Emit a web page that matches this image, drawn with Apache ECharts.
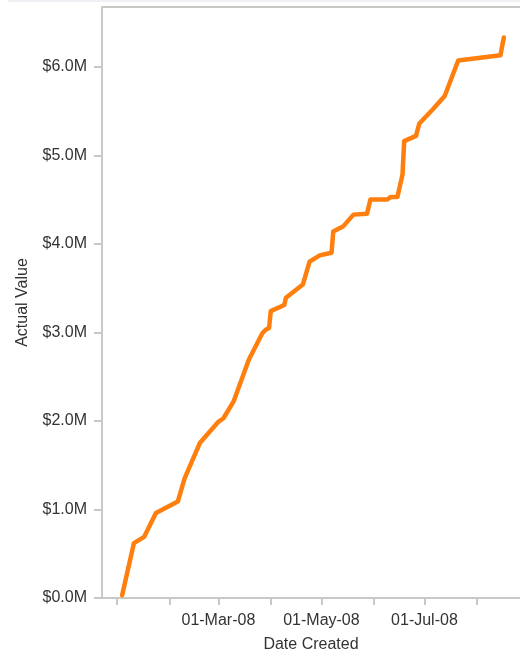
<!DOCTYPE html>
<html>
<head>
<meta charset="utf-8">
<script src="https://cdn.jsdelivr.net/npm/echarts@6/dist/echarts.min.js"></script>
<style>
html,body{margin:0;padding:0;background:#fff;}
#chart{width:520px;height:650px;}
</style>
</head>
<body>
<div id="chart"></div>
<script>
// Data (values in millions of dollars)
const dates = [
  '2008-01-04','2008-01-11','2008-01-17','2008-01-24','2008-02-06','2008-02-10','2008-02-19',
  '2008-03-01','2008-03-04','2008-03-10','2008-03-19','2008-03-27','2008-03-29','2008-03-31',
  '2008-04-01','2008-04-09','2008-04-10','2008-04-20','2008-04-24','2008-04-30','2008-05-07',
  '2008-05-08','2008-05-14','2008-05-20','2008-05-28','2008-05-30','2008-06-09','2008-06-11',
  '2008-06-15','2008-06-18','2008-06-19','2008-06-26','2008-06-28','2008-07-06','2008-07-13',
  '2008-07-21','2008-08-15','2008-08-17'
];
const actualValue = [
  0.03,0.62,0.69,0.96,1.09,1.35,1.75,
  1.99,2.03,2.22,2.69,2.99,3.03,3.05,
  3.24,3.31,3.39,3.54,3.80,3.87,3.90,
  4.14,4.20,4.33,4.34,4.50,4.50,4.53,
  4.53,4.78,5.16,5.22,5.36,5.52,5.67,
  6.07,6.13,6.33
];
const tickDates = ['2008-01-01','2008-02-01','2008-03-01','2008-04-01','2008-05-01','2008-06-01','2008-07-01','2008-08-01'];
const labelDates = ['2008-03-01','2008-05-01','2008-07-01'];
const tickLabels = ['01-Mar-08','01-May-08','01-Jul-08'];
const xMin = '2007-12-23 02:00';
const xMax = '2008-08-26 14:00';
const yTicks = [0,1,2,3,4,5,6];
const yMax = 6.675;

const toTime = s => echarts.time.parse(s).getTime();
const labelTimes = labelDates.map(toTime);

const chart = echarts.init(document.getElementById('chart'), null, {renderer:'canvas'});
const font = 'Liberation Sans, Arial, sans-serif';
chart.setOption({
  animation:false,
  backgroundColor:'#fff',
  grid:{left:102, right:0, top:7, bottom:52, containLabel:false, outerBoundsMode:'none'},
  graphic:[
    {type:'rect', left:8, top:0, shape:{width:512, height:2}, style:{fill:'#eef0f4'}, silent:true},
    {type:'line', shape:{x1:102, y1:7, x2:520, y2:7}, style:{stroke:'#c8c8c8', lineWidth:2}, silent:true}
  ],
  xAxis:{
    type:'value',
    min:toTime(xMin), max:toTime(xMax),
    name:'Date Created', nameLocation:'middle', nameGap:39,
    nameTextStyle:{fontFamily:font, fontSize:16, color:'#333'},
    axisLine:{show:true, lineStyle:{color:'#c8c8c8', width:2}},
    axisTick:{show:true, length:7, lineStyle:{color:'#c8c8c8', width:2}, customValues:tickDates.map(toTime)},
    axisLabel:{
      fontFamily:font, fontSize:16, color:'#333', margin:15,
      customValues:labelTimes,
      formatter:v => { const i = labelTimes.indexOf(v); return i >= 0 ? tickLabels[i] : ''; }
    },
    splitLine:{show:false}
  },
  yAxis:{
    type:'value',
    min:0, max:yMax, interval:1,
    name:'Actual Value', nameLocation:'middle', nameGap:71, nameRotate:90,
    nameTextStyle:{fontFamily:font, fontSize:16, color:'#333'},
    axisLine:{show:true, lineStyle:{color:'#c8c8c8', width:2}},
    axisTick:{show:true, length:8, lineStyle:{color:'#c8c8c8', width:2}, customValues:yTicks},
    axisLabel:{
      fontFamily:font, fontSize:16, color:'#333', margin:15,
      customValues:yTicks,
      formatter:v => '$' + v.toFixed(1) + 'M'
    },
    splitLine:{show:false}
  },
  series:[{
    type:'line',
    data:dates.map((d,i) => [toTime(d), actualValue[i]]),
    showSymbol:false,
    symbol:'none',
    lineStyle:{color:'#ff7f0e', width:4.5, cap:'round', join:'round'},
    itemStyle:{color:'#ff7f0e'}
  }]
});
</script>
</body>
</html>
